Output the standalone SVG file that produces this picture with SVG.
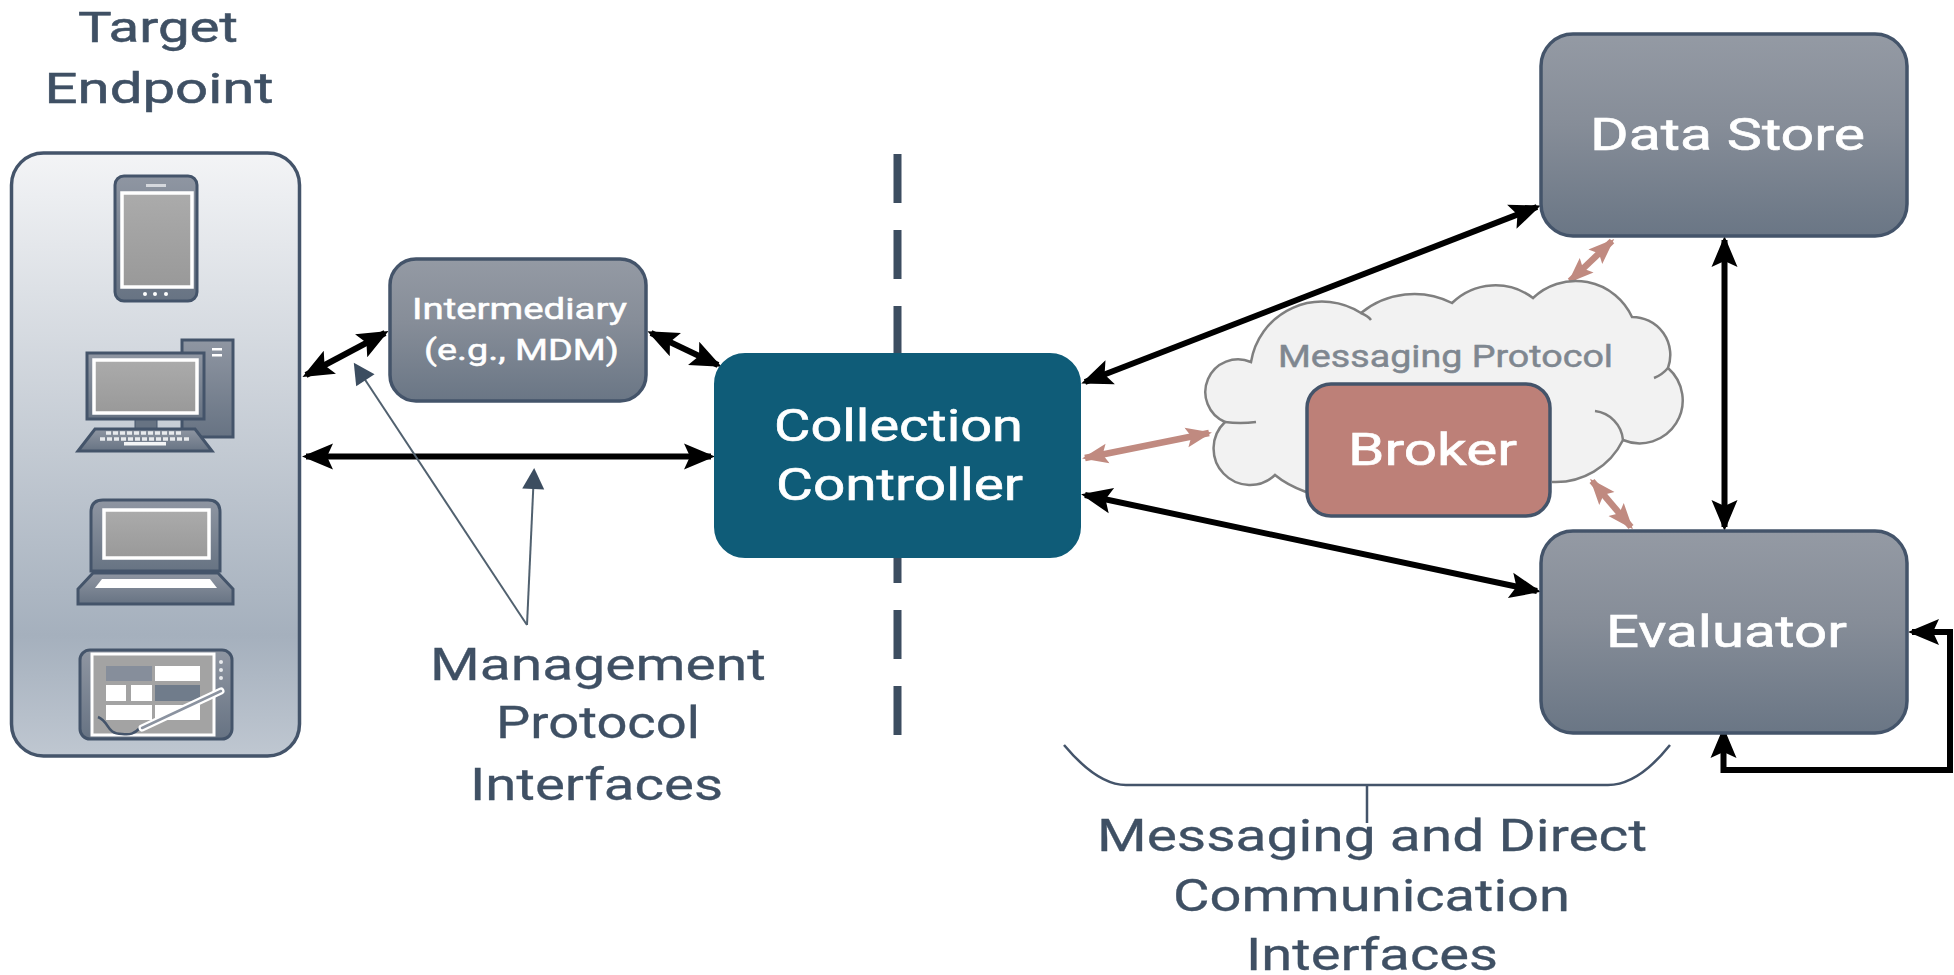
<svg xmlns="http://www.w3.org/2000/svg" width="1954" height="975" viewBox="0 0 1954 975">
<style>
text{font-family:"Roboto","Liberation Sans",sans-serif;text-anchor:middle}
.lab{fill:#3f5064;font-size:44px;stroke:#3f5064;stroke-width:.3}
.w{fill:#fff;font-size:44px;stroke:#fff;stroke-width:.6}
.w2{fill:#fff;font-size:29px;stroke:#fff;stroke-width:.5}
.box{stroke:#44546a;stroke-width:3.5;fill:url(#g)}
.bk{fill:none;stroke:#000;stroke-width:6;marker-start:url(#h);marker-end:url(#h)}
.pk{fill:none;stroke:#c08a80;stroke-width:6.5;marker-start:url(#p);marker-end:url(#p)}
.th{fill:none;stroke:#51616f;stroke-width:2;marker-end:url(#t)}
.ic{fill:url(#ig);stroke:#44546a;stroke-width:3}
.sc{fill:url(#sg);stroke:#fff;stroke-width:3.5}
</style>
<defs>
<linearGradient id="g" x1="0" y1="0" x2="0" y2="1"><stop offset="0" stop-color="#949aa4"/><stop offset="0.45" stop-color="#868d98"/><stop offset="1" stop-color="#6a7685"/></linearGradient>
<linearGradient id="tg" x1="0" y1="0" x2="0" y2="1"><stop offset="0" stop-color="#f3f4f6"/><stop offset="0.8" stop-color="#a5b0bd"/><stop offset="1" stop-color="#bfc7d1"/></linearGradient>
<linearGradient id="ig" x1="0" y1="0" x2="0" y2="1"><stop offset="0" stop-color="#8f96a2"/><stop offset="1" stop-color="#677383"/></linearGradient>
<linearGradient id="sg" x1="0" y1="0" x2="0" y2="1"><stop offset="0" stop-color="#ababab"/><stop offset="1" stop-color="#999"/></linearGradient>
<marker id="h" markerUnits="userSpaceOnUse" markerWidth="36" markerHeight="32" refX="27" refY="16" orient="auto-start-reverse"><path d="M0,3 L31,16 L0,29 L6,16 Z" fill="#000"/></marker>
<marker id="p" markerUnits="userSpaceOnUse" markerWidth="30" markerHeight="26" refX="23" refY="13" orient="auto-start-reverse"><path d="M0,3 L26,13 L0,23 L5,13 Z" fill="#c08a80"/></marker>
<marker id="t" markerUnits="userSpaceOnUse" markerWidth="26" markerHeight="26" refX="18" refY="13" orient="auto"><path d="M1,2 L22,13 L1,24 Z" fill="#3c4d60"/></marker>
</defs>
<rect width="1954" height="975" fill="#fff"/>

<g id="divider"><line x1="897.5" y1="154" x2="897.5" y2="735" stroke="#3c4d60" stroke-width="8" stroke-dasharray="49 27"/></g>

<g id="target-endpoint">
<rect x="11.5" y="153" width="288" height="603" rx="32" fill="url(#tg)" stroke="#44546a" stroke-width="3.5"/>
<text x="158" y="42" font-size="42" fill="#3f5064" stroke="#3f5064" stroke-width=".5" textLength="160" lengthAdjust="spacingAndGlyphs">Target</text>
<text x="159" y="103" font-size="42" fill="#3f5064" stroke="#3f5064" stroke-width=".5" textLength="229" lengthAdjust="spacingAndGlyphs">Endpoint</text>
<g id="icon-tablet">
<rect x="115" y="176" width="82" height="125" rx="9" class="ic"/>
<rect x="122" y="193" width="70" height="94" class="sc"/>
<rect x="146" y="184" width="20" height="3" fill="#d5d8dd"/>
<circle cx="145" cy="294" r="2" fill="#fff"/><circle cx="155" cy="294" r="2" fill="#fff"/><circle cx="166" cy="294" r="2" fill="#fff"/>
</g>
<g id="icon-desktop">
<rect x="182" y="340" width="51" height="97" class="ic"/>
<rect x="212" y="348" width="10" height="2.5" fill="#fff"/><rect x="212" y="354" width="10" height="2.5" fill="#fff"/>
<rect x="135" y="419" width="22" height="11" fill="#677383" stroke="#44546a"/>
<rect x="87" y="353" width="117" height="66" class="ic"/>
<rect x="94" y="360" width="103" height="53" class="sc"/>
<path d="M78,451 L95,429 L195,429 L212,451 Z" class="ic"/>
<path d="M106,433 H183 M100,439 H189" stroke="#e8eaed" stroke-width="3.5" stroke-dasharray="5 2" fill="none"/>
<rect x="124" y="442" width="42" height="3.5" fill="#f4f5f6"/>
</g>
<g id="icon-laptop">
<path d="M91,571 V512 Q91,500 103,500 H208 Q220,500 220,512 V571 Z" class="ic"/>
<rect x="104" y="510" width="105" height="48" class="sc"/>
<path d="M78,604 V589 L93,573 H218 L233,589 V604 Z" class="ic"/>
<path d="M95,588 L102,579 H210 L217,588 Z" fill="#fff"/>
</g>
<g id="icon-slate">
<rect x="80" y="650" width="152" height="89" rx="10" class="ic"/>
<rect x="92" y="654" width="122" height="81" fill="#a3a3a3" stroke="#fff" stroke-width="3"/>
<rect x="106" y="666" width="46" height="15" fill="#868e9b"/>
<rect x="155" y="666" width="45" height="15" fill="#fff"/>
<rect x="106" y="685" width="20" height="16" fill="#fff"/><rect x="131" y="685" width="21" height="16" fill="#fff"/>
<rect x="155" y="685" width="45" height="16" fill="#707c8b"/>
<rect x="106" y="705" width="46" height="15" fill="#fff"/><rect x="155" y="705" width="45" height="15" fill="#fff"/>
<path d="M98,717 C110,722 106,734 122,734 C130,735 134,734 140,728" fill="none" stroke="#44546a" stroke-width="2.5"/>
<path d="M142,728 L221,691" stroke="#fff" stroke-width="7" stroke-linecap="round"/>
<path d="M142,728 L221,691" stroke="#8b93a0" stroke-width="2.5" stroke-linecap="round"/>
<circle cx="221" cy="662" r="2" fill="#e8eaed"/><circle cx="221" cy="670" r="2" fill="#e8eaed"/><circle cx="221" cy="678" r="2" fill="#e8eaed"/>
</g>
</g>

<g id="connectors">
<line class="bk" x1="306" y1="375" x2="385" y2="333"/>
<line class="bk" x1="306" y1="456.5" x2="711" y2="456.5"/>
<line class="bk" x1="651" y1="333" x2="718" y2="365"/>
<line class="bk" x1="1085" y1="382" x2="1537" y2="207"/>
<line class="bk" x1="1085" y1="495" x2="1537" y2="591"/>
<line class="bk" x1="1724.5" y1="240" x2="1724.5" y2="527"/>
<path d="M1723.5,731 V770 H1950 V632 H1912" fill="none" stroke="#000" stroke-width="6" marker-start="url(#h)" marker-end="url(#h)"/>
<line class="pk" x1="1085" y1="458" x2="1209" y2="433"/>
<line class="pk" x1="1570" y1="281" x2="1612" y2="241"/>
<line class="pk" x1="1592" y1="481" x2="1631" y2="527"/>
<line class="th" x1="527" y1="625" x2="356" y2="366"/>
<line class="th" x1="527" y1="625" x2="534" y2="472"/>
</g>

<g id="intermediary">
<rect x="390" y="259" width="256" height="142" rx="26" class="box"/>
<text x="519.5" y="319" class="w2" textLength="215" lengthAdjust="spacingAndGlyphs">Intermediary</text>
<text x="521.5" y="360" class="w2" textLength="195" lengthAdjust="spacingAndGlyphs">(e.g., MDM)</text>
</g>

<g id="collection-controller">
<rect x="715" y="354" width="365" height="203" rx="30" fill="#0f5c78" stroke="#0f5c78" stroke-width="2"/>
<text x="898.5" y="441" class="w" textLength="249" lengthAdjust="spacingAndGlyphs">Collection</text>
<text x="899.5" y="500" class="w" textLength="247" lengthAdjust="spacingAndGlyphs">Controller</text>
</g>

<g id="data-store">
<rect x="1541" y="34" width="366" height="202" rx="32" class="box"/>
<text x="1727.5" y="150" class="w" textLength="275" lengthAdjust="spacingAndGlyphs">Data Store</text>
</g>

<g id="evaluator">
<rect x="1541" y="531" width="366" height="202" rx="32" class="box"/>
<text x="1726.5" y="647" class="w" textLength="241" lengthAdjust="spacingAndGlyphs">Evaluator</text>
</g>

<g id="messaging-protocol">
<path d="M1306,492 Q1287,485 1275,475 A33,33 0 0 1 1225,422 A31,31 0 0 1 1251,362 A72,72 0 0 1 1361,313 A84,84 0 0 1 1452,303 A62,62 0 0 1 1533,298 A62,62 0 0 1 1632,317 A38,38 0 0 1 1668,368 A43,43 0 0 1 1623,440 A75,75 0 0 1 1552,482 L1306,492 Z" fill="#f2f2f2" stroke="none"/>
<path d="M1306,492 Q1287,485 1275,475 A33,33 0 0 1 1225,422 A31,31 0 0 1 1251,362 A72,72 0 0 1 1361,313 A84,84 0 0 1 1452,303 A62,62 0 0 1 1533,298 A62,62 0 0 1 1632,317 A38,38 0 0 1 1668,368 A43,43 0 0 1 1623,440 A75,75 0 0 1 1552,482" fill="none" stroke="#7f7f7f" stroke-width="2.5"/>
<path d="M1225,422 Q1240,424 1256,422 M1361,313 Q1368,316 1371,320 M1668,368 Q1662,375 1654,378 M1595,411 A32,32 0 0 1 1623,440" fill="none" stroke="#7f7f7f" stroke-width="2.5"/>
<text x="1445.5" y="367" font-size="32" fill="#7f8790" stroke="#7f8790" stroke-width=".5" textLength="335" lengthAdjust="spacingAndGlyphs">Messaging Protocol</text>
</g>

<g id="broker">
<rect x="1307" y="384" width="243" height="132" rx="24" fill="#bd8078" stroke="#44546a" stroke-width="3.5"/>
<text x="1432.5" y="465" class="w" textLength="169" lengthAdjust="spacingAndGlyphs">Broker</text>
</g>

<g id="labels">
<text x="598" y="680" class="lab" textLength="336" lengthAdjust="spacingAndGlyphs">Management</text>
<text x="598" y="738" class="lab" textLength="204" lengthAdjust="spacingAndGlyphs">Protocol</text>
<text x="596.5" y="800" class="lab" textLength="253" lengthAdjust="spacingAndGlyphs">Interfaces</text>
<path d="M1064,745 C1085,770 1105,785 1126,785 H1608 C1630,785 1650,770 1670,745 M1367,785 V823" fill="none" stroke="#44546a" stroke-width="2.5"/>
<text x="1372" y="851" class="lab" textLength="550" lengthAdjust="spacingAndGlyphs">Messaging and Direct</text>
<text x="1371.5" y="911" class="lab" textLength="397" lengthAdjust="spacingAndGlyphs">Communication</text>
<text x="1372" y="970" class="lab" textLength="252" lengthAdjust="spacingAndGlyphs">Interfaces</text>
</g>
</svg>
